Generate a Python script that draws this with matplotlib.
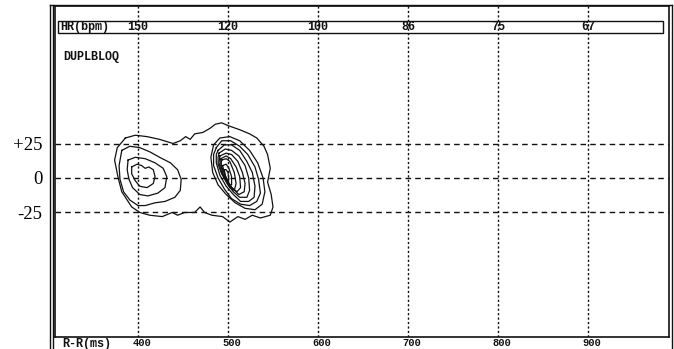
import matplotlib
matplotlib.use("Agg")
import matplotlib.pyplot as plt
from matplotlib.lines import Line2D
from matplotlib.patches import Rectangle

# ---- data ----
rr_ticks = [400, 500, 600, 700, 800, 900]
rr_tick_labels = ["400", "500", "600", "700", "800", "900"]
hr_labels = ["150", "120", "100", "86", "75", "67"]
dv_ticks = [25, 0, -25]
dv_tick_labels = ["+25", "0", "-25"]

# contour rings (R-R in ms, delta in ms)
outer_rr = [386, 397, 410, 424, 439, 447, 453, 458, 463, 472, 480, 486, 493, 500, 513, 524, 532, 540, 544,
            547, 544, 548, 550, 547, 536, 527, 519, 511, 502, 494, 482, 474, 469, 463, 452, 444, 438, 427,
            413, 402, 393, 382, 378, 374, 377]
outer_dv = [29, 31, 30, 28, 25, 27, 30, 28, 32, 33, 36, 39, 40, 38, 35, 32, 29, 23, 17,
            7, -3, -12, -21, -27, -29, -27, -30, -28, -32, -28, -27, -25, -21, -25, -25, -27, -25, -28,
            -27, -25, -21, -10, 0, 13, 22]

left_a_rr = [382, 391, 402, 413, 424, 436, 444, 448, 447, 441, 430, 419, 408, 400, 391, 384, 380, 379]
left_a_dv = [20, 23, 22, 19, 15, 11, 6, -1, -9, -14, -17, -18, -20, -20, -16, -10, -1, 9]
left_b_rr = [389, 397, 408, 419, 428, 432, 430, 422, 411, 402, 394, 390, 388]
left_b_dv = [13, 15, 14, 11, 7, 1, -7, -11, -13, -12, -7, -1, 6]
left_c_rr = [393, 399, 404, 408, 412, 417, 419, 417, 410, 402, 397, 393]
left_c_dv = [8, 10, 9, 7, 8, 6, 1, -4, -7, -6, -2, 3]

right_1_rr = [484, 491, 502, 513, 524, 533, 539, 541, 538, 530, 519, 508, 498, 489, 483, 481]
right_1_dv = [24, 29, 30, 27, 20, 11, 0, -10, -19, -23, -22, -18, -12, -5, 4, 15]
right_2_rr = [487, 493, 503, 513, 522, 530, 534, 536, 532, 524, 514, 504, 496, 489, 484, 484]
right_2_dv = [22, 27, 27, 23, 17, 8, -1, -11, -17, -20, -19, -15, -8, 0, 9, 17]
right_3_rr = [489, 496, 504, 513, 521, 527, 530, 529, 523, 514, 506, 498, 491, 487, 487]
right_3_dv = [20, 24, 24, 20, 12, 4, -6, -14, -17, -17, -12, -6, 2, 11, 17]
right_4_rr = [490, 497, 504, 512, 519, 523, 524, 521, 513, 506, 499, 493, 489, 489]
right_4_dv = [18, 21, 20, 16, 9, 0, -9, -14, -14, -10, -4, 3, 10, 15]
right_5_rr = [491, 498, 504, 511, 516, 519, 518, 512, 506, 499, 493, 490]
right_5_dv = [16, 18, 17, 12, 4, -4, -10, -12, -8, -3, 4, 11]
right_6_rr = [492, 498, 503, 509, 513, 514, 510, 504, 499, 494, 492]
right_6_dv = [14, 16, 14, 8, 1, -7, -10, -7, -1, 6, 11]
right_7_rr = [493, 498, 502, 507, 509, 507, 502, 498, 494, 492]
right_7_dv = [13, 14, 12, 4, -4, -9, -7, -2, 4, 9]
right_8_rr = [494, 498, 501, 504, 504, 501, 498, 496]
right_8_dv = [9, 10, 7, 1, -5, -5, -1, 4]
right_9_rr = [496, 498, 500, 501, 499, 497]
right_9_dv = [6, 6, 4, -1, -1, 1]

rings = [
    (outer_rr, outer_dv),
    (left_a_rr, left_a_dv), (left_b_rr, left_b_dv), (left_c_rr, left_c_dv),
    (right_1_rr, right_1_dv), (right_2_rr, right_2_dv), (right_3_rr, right_3_dv),
    (right_4_rr, right_4_dv), (right_5_rr, right_5_dv), (right_6_rr, right_6_dv),
    (right_7_rr, right_7_dv), (right_8_rr, right_8_dv), (right_9_rr, right_9_dv),
]

# ---- figure ----
W, H = 674, 349
fig = plt.figure(figsize=(W / 100, H / 100), dpi=100)
fig.patch.set_facecolor("white")

def fx(px):
    return px / W

def fy(py):
    return 1 - py / H

ax = fig.add_axes([fx(55), fy(337), fx(669) - fx(55), fy(6) - fy(337)])
ax.set_xlim(307.8, 990)
ax.set_ylim(-115.3, 124.7)

for s in ax.spines.values():
    s.set_linewidth(1.2)
    s.set_color("#111111")

# grid
for r in rr_ticks:
    ax.axvline(r, color="#111111", lw=1.0, ls=(0, (1.6, 1.6)), zorder=1)
for d in dv_ticks:
    ax.axhline(d, color="#111111", lw=1.0, ls=(0, (4, 3)), zorder=1)

# contours
for rr, dv in rings:
    ax.plot(list(rr) + [rr[0]], list(dv) + [dv[0]], color="#111111", lw=0.9, zorder=3)

# y ticks
ax.set_xticks([])
ax.set_yticks(dv_ticks)
ax.set_yticklabels(dv_tick_labels, family="Liberation Serif", fontsize=13.5)
ax.tick_params(axis="y", length=0, pad=9)

# HR box
ax.add_patch(Rectangle((0.005, 0.918), 0.985, 0.037, transform=ax.transAxes,
                       fill=False, lw=1.0, ec="#111111", zorder=4))
mono = dict(family="Liberation Mono", fontweight="bold", fontsize=8.5, color="#111111")
small = dict(family="Liberation Mono", fontweight="bold", fontsize=7.5, color="#111111")
ax.text(0.008, 0.9365, "HR(bpm)", transform=ax.transAxes, ha="left", va="center", **mono)
for r, lab in zip(rr_ticks, hr_labels):
    ax.text(r, 0.9365, lab, transform=ax.get_xaxis_transform(), ha="center", va="center", **mono)

ax.text(0.014, 0.846, "DUPLBLOQ", transform=ax.transAxes, ha="left", va="center", **mono)

# bottom labels
ax.text(0.011, -0.003, "R-R(ms)", transform=ax.transAxes, ha="left", va="top", **mono)
for r, lab in zip(rr_ticks, rr_tick_labels):
    ax.text(r + 4, -0.003, lab, transform=ax.get_xaxis_transform(), ha="center", va="top", **small)

# outer frame
for x in (50, 52.5):
    fig.add_artist(Line2D([fx(x), fx(x)], [fy(5), 0], color="#111111", lw=1.0))
fig.add_artist(Line2D([fx(50), fx(672)], [fy(5), fy(5)], color="#111111", lw=1.0))
fig.add_artist(Line2D([fx(672), fx(672)], [fy(5), 0], color="#111111", lw=1.0))

fig.savefig("out.png", dpi=100, facecolor="white")
